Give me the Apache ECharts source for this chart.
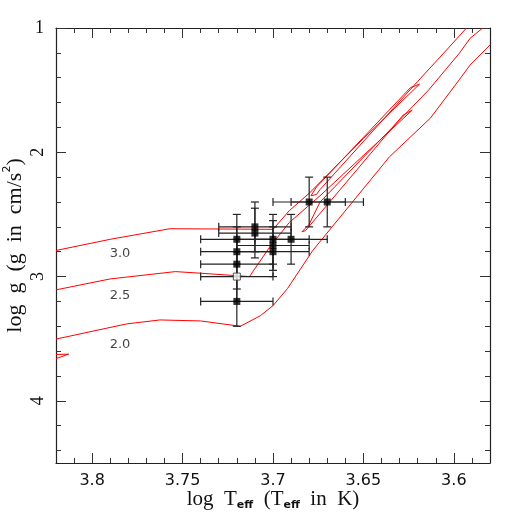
<!DOCTYPE html>
<html>
<head>
<meta charset="utf-8">
<script src="https://cdn.jsdelivr.net/npm/echarts@6/dist/echarts.min.js"></script>
<style>
  html, body { margin: 0; padding: 0; background: #fff; }
  #chart { width: 518px; height: 518px; }
</style>
</head>
<body>
<div id="chart"></div>
<script>
// axis ticks
const majorX = [3.6, 3.65, 3.7, 3.75, 3.8]
const minorX = [3.59, 3.61, 3.62, 3.63, 3.64, 3.66, 3.67, 3.68, 3.69, 3.71, 3.72, 3.73, 3.74, 3.76, 3.77, 3.78, 3.79, 3.81]
const majorY = [1, 2, 3, 4]
const minorY = [1.2, 1.4, 1.6, 1.8, 2.2, 2.4, 2.6, 2.8, 3.2, 3.4, 3.6, 3.8, 4.2, 4.4]

// observed stars: log Teff, log g, errors
const starT = [3.72, 3.72, 3.72, 3.72, 3.71, 3.71, 3.70, 3.70, 3.70, 3.69, 3.68, 3.67]
const starG = [2.70, 2.80, 2.90, 3.20, 2.60, 2.65, 2.70, 2.75, 2.80, 2.70, 2.40, 2.40]
const openT = [3.72]
const openG = [3.00]
const errT = 0.02
const errG = 0.2

// evolutionary tracks (log Teff, log g)
const track30T = [3.82, 3.79, 3.757, 3.72, 3.70, 3.691, 3.68, 3.65, 3.619, 3.624, 3.676, 3.679, 3.676, 3.674, 3.62, 3.604, 3.593]
const track30G = [2.79, 2.70, 2.615, 2.618, 2.62, 2.47, 2.33, 1.89, 1.452, 1.48, 2.28, 2.35, 2.34, 2.30, 1.43, 1.177, 1.0]
const track25T = [3.82, 3.79, 3.754, 3.74, 3.713, 3.702, 3.691, 3.674, 3.623, 3.628, 3.682, 3.684, 3.68, 3.674, 3.614, 3.597, 3.591, 3.584]
const track25G = [3.107, 3.019, 2.96, 2.973, 3.0, 2.766, 2.565, 2.35, 1.661, 1.70, 2.63, 2.64, 2.58, 2.40, 1.5, 1.204, 1.083, 1.0]
const track20T = [3.82, 3.781, 3.7625, 3.74, 3.718, 3.707, 3.700, 3.692, 3.678, 3.6355, 3.613, 3.597, 3.591, 3.58]
const track20G = [3.503, 3.381, 3.349, 3.357, 3.40, 3.315, 3.234, 3.097, 2.79, 2.035, 1.726, 1.417, 1.298, 1.137]
const hookT = [3.82, 3.813, 3.82]
const hookG = [3.627, 3.624, 3.66]

// mass labels
const massLabels = ['3.0', '2.5', '2.0']
const labelT = [3.7846, 3.7846, 3.7846]
const labelG = [2.815, 3.153, 3.548]

const zip = (a, b) => a.map((v, i) => [v, b[i]])

const chart = echarts.init(document.getElementById('chart'))

const frame = { show: true, onZero: false, lineStyle: { color: '#222', width: 1.2 } }
const tickStyle = { color: '#333', width: 1 }
const serif = 'Liberation Serif'
const sans = 'DejaVu Sans'

const xBase = { type: 'value', min: 3.58, max: 3.82, inverse: true, splitLine: { show: false } }
const yBase = { type: 'value', min: 1, max: 4.5, inverse: true, splitLine: { show: false } }

const trackLine = (data) => ({
  type: 'line',
  data,
  showSymbol: false,
  symbol: 'none',
  clip: true,
  lineStyle: { color: '#ff0000', width: 1 },
  z: 2,
  silent: true
})

const option = {
  backgroundColor: '#fff',
  animation: false,
  grid: { left: 56, right: 28, top: 28, bottom: 55, containLabel: false, outerBoundsMode: 'none' },
  xAxis: [
    {
      ...xBase, position: 'bottom',
      axisLine: frame,
      axisTick: { inside: true, length: 10, customValues: majorX, lineStyle: tickStyle },
      axisLabel: { customValues: majorX, fontFamily: sans, fontSize: 16, color: '#111', margin: 10, formatter: v => String(+v.toFixed(2)) },
      name: '{a|log  T}{s|eff}{a|  (T}{s|eff}{a|  in  K)}',
      nameLocation: 'middle',
      nameMoveOverlap: false,
      nameGap: 24,
      nameTextStyle: {
        rich: {
          a: { fontFamily: serif, fontSize: 21, color: '#111', lineHeight: 24 },
          s: { fontFamily: sans, fontSize: 11, fontWeight: 'bold', color: '#111', verticalAlign: 'bottom', lineHeight: 14, padding: [6, 0, 0, 0] }
        }
      }
    },
    {
      ...xBase, position: 'bottom',
      axisLine: { show: false },
      axisTick: { inside: true, length: 5, customValues: minorX, lineStyle: tickStyle },
      axisLabel: { show: false }
    },
    {
      ...xBase, position: 'top',
      axisLine: frame,
      axisTick: { inside: true, length: 10, customValues: majorX, lineStyle: tickStyle },
      axisLabel: { show: false }
    },
    {
      ...xBase, position: 'top',
      axisLine: { show: false },
      axisTick: { inside: true, length: 5, customValues: minorX, lineStyle: tickStyle },
      axisLabel: { show: false }
    }
  ],
  yAxis: [
    {
      ...yBase, position: 'left',
      axisLine: frame,
      axisTick: { inside: true, length: 10, customValues: majorY, lineStyle: tickStyle },
      axisLabel: { customValues: [2, 3, 4], rotate: 90, fontFamily: serif, fontSize: 18, color: '#111', margin: 9 },
      name: '{a|log  g  (g  in  cm/s}{p|2}{a|)}',
      nameLocation: 'middle',
      nameMoveOverlap: false,
      nameRotate: 90,
      nameGap: 28,
      nameTextStyle: {
        rich: {
          a: { fontFamily: serif, fontSize: 22, color: '#111', lineHeight: 26 },
          p: { fontFamily: sans, fontSize: 11, color: '#111', verticalAlign: 'top', lineHeight: 14, padding: [0, 0, 10, 0] }
        }
      }
    },
    {
      ...yBase, position: 'left',
      axisLine: { show: false },
      axisTick: { inside: true, length: 5, customValues: minorY, lineStyle: tickStyle },
      axisLabel: { customValues: [1], rotate: 0, fontFamily: serif, fontSize: 18, color: '#111', margin: 12 }
    },
    {
      ...yBase, position: 'right',
      axisLine: frame,
      axisTick: { inside: true, length: 10, customValues: majorY, lineStyle: tickStyle },
      axisLabel: { show: false }
    },
    {
      ...yBase, position: 'right',
      axisLine: { show: false },
      axisTick: { inside: true, length: 5, customValues: minorY, lineStyle: tickStyle },
      axisLabel: { show: false }
    }
  ],
  series: [
    trackLine(zip(track30T, track30G)),
    trackLine(zip(track25T, track25G)),
    trackLine(zip(track20T, track20G)),
    trackLine(zip(hookT, hookG)),
    {
      type: 'custom',
      z: 3,
      silent: true,
      data: zip(starT, starG).concat(zip(openT, openG)),
      renderItem: (params, api) => {
        const x = api.value(0)
        const y = api.value(1)
        const l = api.coord([x - errT, y])
        const r = api.coord([x + errT, y])
        const t = api.coord([x, y - errG])
        const b = api.coord([x, y + errG])
        const cap = 4
        const style = { stroke: '#222', lineWidth: 1.2 }
        const seg = (x1, y1, x2, y2) => ({ type: 'line', shape: { x1, y1, x2, y2 }, style })
        return {
          type: 'group',
          children: [
            seg(l[0], l[1], r[0], r[1]),
            seg(l[0], l[1] - cap, l[0], l[1] + cap),
            seg(r[0], r[1] - cap, r[0], r[1] + cap),
            seg(t[0], t[1], b[0], b[1]),
            seg(t[0] - cap, t[1], t[0] + cap, t[1]),
            seg(b[0] - cap, b[1], b[0] + cap, b[1])
          ]
        }
      }
    },
    {
      type: 'scatter',
      z: 4,
      silent: true,
      data: zip(starT, starG),
      symbol: 'rect',
      symbolSize: 7,
      itemStyle: { color: '#000' }
    },
    {
      type: 'scatter',
      z: 4,
      silent: true,
      data: zip(openT, openG),
      symbol: 'rect',
      symbolSize: 7,
      itemStyle: { color: '#fff', borderColor: '#333', borderWidth: 1 }
    },
    {
      type: 'scatter',
      z: 5,
      silent: true,
      symbolSize: 0,
      data: massLabels.map((m, i) => ({ value: [labelT[i], labelG[i]], label: { formatter: m } })),
      label: { show: true, position: 'inside', fontFamily: sans, fontSize: 13, color: '#111' }
    }
  ]
}

chart.setOption(option)
</script>
</body>
</html>
